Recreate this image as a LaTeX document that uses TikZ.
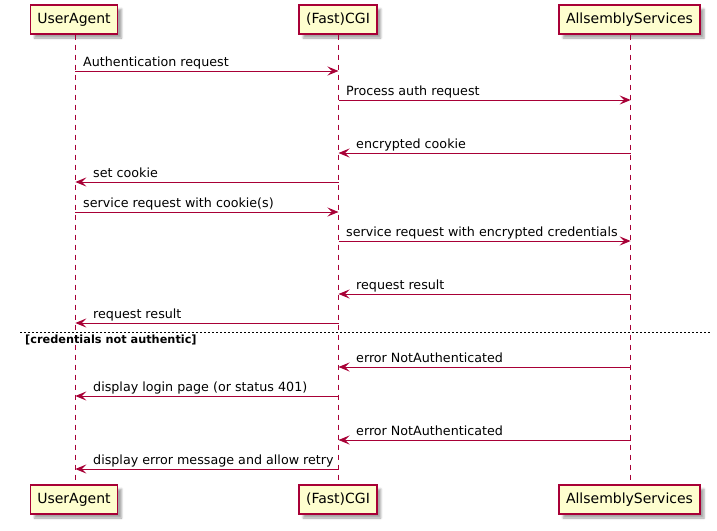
\documentclass[tikz,border=0pt]{standalone}
\usepackage{fontspec}
\setmainfont{DejaVu Sans}
\usetikzlibrary{arrows.meta,shadows.blur}
\definecolor{puborder}{HTML}{A80036}
\definecolor{pufill}{HTML}{FEFECE}
\tikzset{
 part/.style={draw=puborder, line width=1.5pt, fill=pufill, minimum height=29pt, inner xsep=7pt, inner ysep=0pt,
   font=\fontsize{14}{16}\selectfont,
   blur shadow={shadow xshift=4pt, shadow yshift=-4pt, shadow blur steps=5, shadow blur radius=2pt, shadow opacity=35}},
 life/.style={draw=puborder, line width=1pt, dash pattern=on 5pt off 5pt},
 msg/.style={draw=puborder, line width=1pt, -{Stealth[length=11pt,width=9pt,inset=4.5pt]}},
 lbl/.style={anchor=base west, inner sep=0pt, font=\fontsize{12.7}{15}\selectfont},
 divider/.style={draw=black, line width=1pt, dash pattern=on 2pt off 2pt},
 divlbl/.style={anchor=base west, inner sep=0pt, font=\fontsize{11.3}{13}\selectfont\bfseries},
}
\begin{document}
\begin{tikzpicture}[x=1pt,y=-1pt]
\useasboundingbox (0,0) rectangle (717,530);
% participants
\node[part] (ua) at (74,19.5) {UserAgent};
\node[part] (cgi) at (338,19.5) {(Fast)CGI};
\node[part] (as) at (629.5,19.5) {AllsemblyServices};
\node[part] (uab) at (74,499.5) {UserAgent};
\node[part] (cgib) at (338,499.5) {(Fast)CGI};
\node[part] (asb) at (629.5,499.5) {AllsemblyServices};
% lifelines
\coordinate (uat) at (75.3,34.5);  \coordinate (uabot) at (75.3,484.5);
\coordinate (cgit) at (338.5,34.5); \coordinate (cgibot) at (338.5,484.5);
\coordinate (ast) at (630.7,34.5);  \coordinate (asbot) at (630.7,484.5);
\draw[life] (uat) -- (uabot);
\draw[life] (cgit) -- (cgibot);
\draw[life] (ast) -- (asbot);
% message end points
\foreach \n/\y in {1/71,2/100,3/153,4/182,5/212,6/241,7/294,8/323,9/367,10/396,11/440,12/469}{
  \coordinate (u\n) at (75.3,\y);
  \coordinate (c\n) at (338.5,\y);
  \coordinate (s\n) at (630.7,\y);
}
\draw[msg] (u1) -- (c1);
\node[lbl] (l1) at (83,66.5) {Authentication request};
\draw[msg] (c2) -- (s2);
\node[lbl] (l2) at (346,95.5) {Process auth request};
\draw[msg] (s3) -- (c3);
\node[lbl] (l3) at (356,148.5) {encrypted cookie};
\draw[msg] (c4) -- (u4);
\node[lbl] (l4) at (93,177.5) {set cookie};
\draw[msg] (u5) -- (c5);
\node[lbl] (l5) at (83,207.5) {service request with cookie(s)};
\draw[msg] (c6) -- (s6);
\node[lbl] (l6) at (346,236.5) {service request with encrypted credentials};
\draw[msg] (s7) -- (c7);
\node[lbl] (l7) at (356,289.5) {request result};
\draw[msg] (c8) -- (u8);
\node[lbl] (l8) at (93,318.5) {request result};
% divider
\coordinate (d1) at (20,332);
\coordinate (d2) at (711,332);
\draw[divider] (d1) -- (d2);
\node[divlbl] (dl) at (25,343) {[credentials not authentic]};
\draw[msg] (s9) -- (c9);
\node[lbl] (l9) at (356,362.5) {error NotAuthenticated};
\draw[msg] (c10) -- (u10);
\node[lbl] (l10) at (93,391.5) {display login page (or status 401)};
\draw[msg] (s11) -- (c11);
\node[lbl] (l11) at (356,435.5) {error NotAuthenticated};
\draw[msg] (c12) -- (u12);
\node[lbl] (l12) at (93,464.5) {display error message and allow retry};
\end{tikzpicture}
\end{document}
